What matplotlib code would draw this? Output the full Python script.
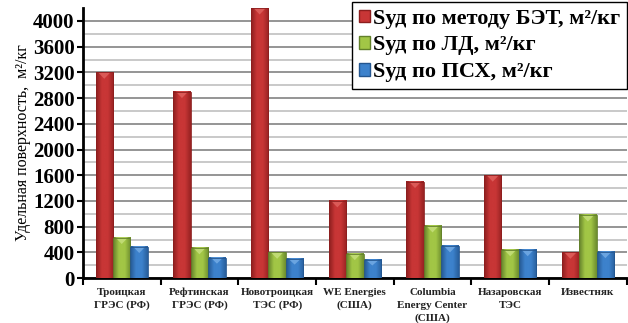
import numpy as np
import matplotlib.pyplot as plt
from matplotlib.patches import Patch
from matplotlib.colors import LinearSegmentedColormap

plt.rcParams['font.family'] = ['Liberation Serif', 'DejaVu Serif']
plt.rcParams['font.weight'] = 'bold'

categories = ['Троицкая\nГРЭС (РФ)', 'Рефтинская\nГРЭС (РФ)', 'Новотроицкая\nТЭС (РФ)',
              'WE Energies\n(США)', 'Columbia\nEnergy Center\n(США)', 'Назаровская\nТЭС', 'Известняк']
s_bet = [3200, 2900, 4200, 1200, 1500, 1600, 400]
s_ld = [630, 470, 400, 380, 810, 440, 980]
s_psh = [490, 320, 300, 280, 500, 440, 410]
series_names = ['Sуд по методу БЭТ, м²/кг', 'Sуд по ЛД, м²/кг', 'Sуд по ПСХ, м²/кг']
yticks = list(range(0, 4001, 400))

# dark edge, middle, dark edge, cap highlight for each series
shades = [
    ('#8c1e1e', '#c83636', '#962222', '#e46a66'),
    ('#62802a', '#a2c646', '#6c8c2e', '#cde488'),
    ('#24568f', '#3d82cc', '#285e9c', '#7fb4ea'),
]

fig = plt.figure(figsize=(6.28, 3.23), dpi=100)
ax = fig.add_axes([0.132, 0.139, 0.866, 0.836])

x = np.arange(len(categories))
w = 0.225
grad = np.linspace(0, 1, 64).reshape(1, -1)
for k, vals in enumerate([s_bet, s_ld, s_psh]):
    dark1, mid, dark2, hi = shades[k]
    cmap = LinearSegmentedColormap.from_list('g%d' % k, [dark1, mid, mid, dark2])
    for xi, v in zip(x, vals):
        left = xi + (k - 1) * w - w / 2
        ax.imshow(grad, cmap=cmap, aspect='auto', extent=(left, left + w, 0, v),
                  zorder=3, interpolation='bicubic')
        # lighter pointed cap on the top of each bar
        cap = min(100, v * 0.3)
        ax.fill([left + w * 0.15, left + w * 0.85, left + w / 2], [v, v, v - cap],
                color=hi, alpha=0.7, zorder=4, lw=0)
        ax.add_patch(plt.Rectangle((left, 0), w, v, fill=False, ec=dark1, lw=0.6, zorder=4))

ax.set_xlim(-0.5, len(categories) - 0.5)
ax.set_ylim(0, 4200)
ax.set_yticks(yticks)
ax.set_yticks(range(200, 4200, 400), minor=True)
ax.tick_params(axis='y', which='major', labelsize=15, width=1.5, length=4, direction='out', pad=2)
ax.tick_params(axis='y', which='minor', length=0)
ax.grid(axis='y', which='major', color='#8c8c8c', lw=1.3, zorder=0)
ax.grid(axis='y', which='minor', color='#c0c0c0', lw=1.2, zorder=0)

# category names: each line on its own baseline so all labels line up at the top
ax.set_xticks(np.arange(len(categories) + 1) - 0.5, minor=True)
ax.set_xticks(x)
ax.set_xticklabels([])
ax.tick_params(axis='x', which='major', length=0)
ax.tick_params(axis='x', which='minor', length=5, width=1.5, direction='out')
for xi, name in zip(x, categories):
    for i, line in enumerate(name.split('\n')):
        ax.annotate(line, xy=(xi, 0), xycoords=('data', 'axes fraction'),
                    xytext=(0, -12.5 - i * 9.0), textcoords='offset points',
                    ha='center', va='baseline', fontsize=8, color='#222222',
                    annotation_clip=False)

for side in ['top', 'right']:
    ax.spines[side].set_visible(False)
ax.spines['left'].set_linewidth(2)
ax.spines['bottom'].set_linewidth(2)

ax.set_ylabel('Удельная поверхность,  м²/кг', fontsize=11.5, labelpad=1)

handles = [Patch(facecolor=shades[k][1], edgecolor=shades[k][0]) for k in range(3)]
leg = ax.legend(handles, series_names, loc='upper right', bbox_to_anchor=(1.0, 1.022),
                fontsize=16, frameon=True, fancybox=False, framealpha=1,
                handlelength=0.5, handleheight=0.5, handletextpad=0.15,
                borderpad=0.3, labelspacing=0.3, borderaxespad=0)
leg.get_frame().set_edgecolor('black')
leg.get_frame().set_linewidth(1)
leg.set_zorder(10)

fig.savefig('out.png', dpi=100)
